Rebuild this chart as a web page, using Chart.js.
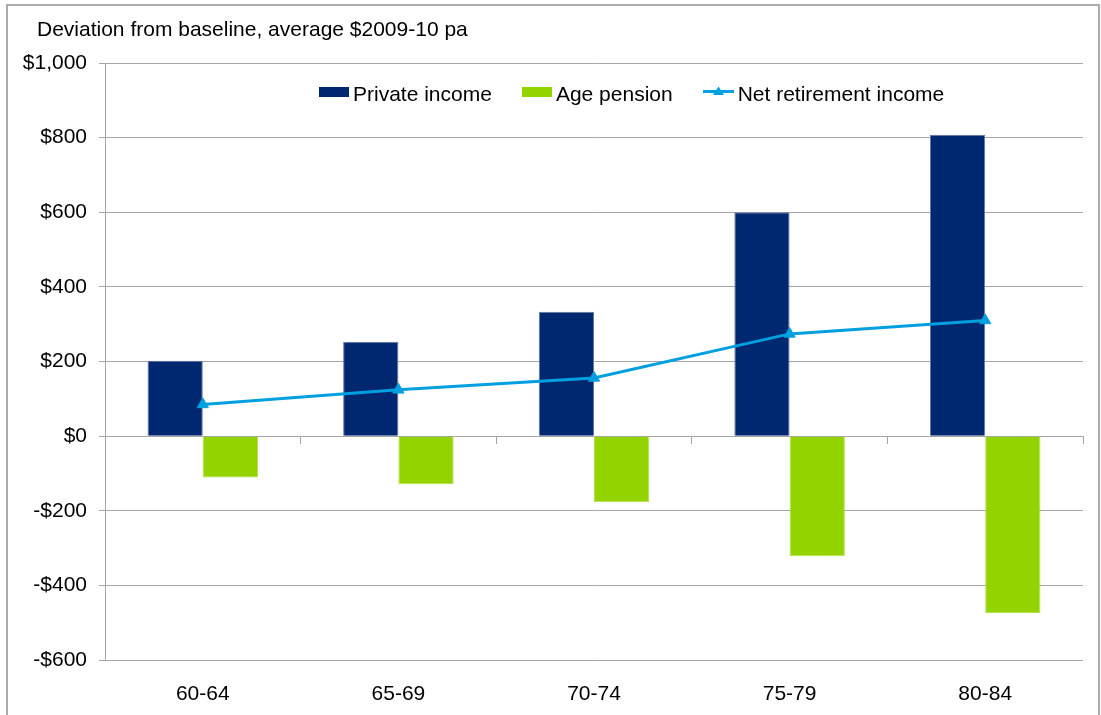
<!DOCTYPE html>
<html>
<head>
<meta charset="utf-8">
<script src="https://cdn.jsdelivr.net/npm/chart.js@4/dist/chart.umd.min.js"></script>
<style>
  html, body { margin: 0; padding: 0; background: #fff; overflow: hidden; }
  #wrap { position: relative; width: 1101px; height: 715px; }
  #frame { position: absolute; left: 6px; top: 4px; width: 1094px; height: 760px; box-sizing: border-box;
           border: 2px solid #ababab; border-bottom: none; pointer-events: none; }
  canvas { position: absolute; left: 0; top: 0; }
  #title { position: absolute; left: 37px; top: 17px; white-space: nowrap;
           font: 21px 'Liberation Sans', Arial, sans-serif; line-height: 24px; color: #000; }
  #legend { position: absolute; left: 319px; top: 82px; display: flex; white-space: nowrap;
            font: 21px 'Liberation Sans', Arial, sans-serif; line-height: 24px; color: #000; }
  .item { display: flex; align-items: flex-start; margin-right: 30px; }
  .box { width: 30px; height: 10px; margin-top: 5px; margin-right: 4px; }
  .lineicon { width: 31px; height: 14px; margin-top: 3px; margin-right: 4px; }
</style>
</head>
<body>
<div id="wrap">
  <canvas id="c" width="1101" height="715"></canvas>
  <div id="title"></div>
  <div id="legend"></div>
  <div id="frame"></div>
</div>
<script>
const categories = ['60-64', '65-69', '70-74', '75-79', '80-84'];
const privateIncome = [202, 253, 333, 600, 808];
const agePension = [-111, -129, -177, -322, -474];
const netRetirementIncome = [85, 124, 156, 274, 310];
const seriesNames = ['Private income', 'Age pension', 'Net retirement income'];
const yTickValues = [-600, -400, -200, 0, 200, 400, 600, 800, 1000];
const yTickLabels = ['-$600', '-$400', '-$200', '$0', '$200', '$400', '$600', '$800', '$1,000'];
const titleText = 'Deviation from baseline, average $2009-10 pa';

const NAVY = '#002870';
const GREEN = '#93d300';
const BLUE = '#00a0e0';
const GRID = '#a6a6a6';
const FONT = { family: "'Liberation Sans', Arial, sans-serif", size: 21 };

document.getElementById('title').textContent = titleText;

const chart = new Chart(document.getElementById('c'), {
  type: 'bar',
  data: {
    labels: categories,
    datasets: [
      { label: seriesNames[0], data: privateIncome, backgroundColor: NAVY, borderColor: '#6577a0',
        borderWidth: 1, order: 1, categoryPercentage: 0.565, barPercentage: 1 },
      { label: seriesNames[1], data: agePension, backgroundColor: GREEN, borderColor: '#b2e04a',
        borderWidth: 1, order: 1, categoryPercentage: 0.565, barPercentage: 1 },
      { type: 'line', label: seriesNames[2], data: netRetirementIncome, borderColor: BLUE,
        backgroundColor: BLUE, borderWidth: 3, pointStyle: 'triangle', pointRadius: 6.5,
        pointBorderWidth: 1, pointBackgroundColor: BLUE, pointBorderColor: BLUE,
        tension: 0, fill: false, order: 0 }
    ]
  },
  options: {
    responsive: false,
    devicePixelRatio: 1,
    animation: false,
    layout: { padding: { left: 0, right: 18, top: 63, bottom: 0 } },
    plugins: {
      legend: { display: false },
      tooltip: { enabled: false },
      title: { display: false }
    },
    scales: {
      x: {
        grid: { display: false },
        border: { display: false },
        ticks: { color: '#000', font: FONT, padding: 14, maxRotation: 0 },
        afterFit: (s) => { s.height = 55; }
      },
      x2: {
        type: 'category',
        labels: categories,
        position: { y: 0 },
        offset: true,
        grid: { offset: true, drawOnChartArea: false, drawTicks: true, tickLength: 7, color: GRID },
        border: { display: true, color: GRID },
        ticks: { display: false }
      },
      y: {
        min: -600, max: 1000,
        ticks: {
          stepSize: 200, color: '#000', font: FONT, padding: 12,
          callback: (v) => { const i = yTickValues.indexOf(v); return i >= 0 ? yTickLabels[i] : ''; }
        },
        grid: { color: GRID, lineWidth: 1, tickLength: 6, drawTicks: true },
        border: { display: true, color: GRID },
        afterFit: (s) => { s.width = 105; }
      }
    }
  }
});

// HTML legend built from the chart's datasets
const legendOrder = [0, 1, 2];
const legendEl = document.getElementById('legend');
legendOrder.forEach((idx) => {
  const ds = chart.data.datasets[idx];
  const item = document.createElement('div');
  item.className = 'item';
  if (ds.type === 'line') {
    const ns = 'http://www.w3.org/2000/svg';
    const svg = document.createElementNS(ns, 'svg');
    svg.setAttribute('class', 'lineicon');
    svg.setAttribute('width', '31'); svg.setAttribute('height', '14');
    const ln = document.createElementNS(ns, 'line');
    ln.setAttribute('x1', '0'); ln.setAttribute('x2', '31');
    ln.setAttribute('y1', '6.5'); ln.setAttribute('y2', '6.5');
    ln.setAttribute('stroke', ds.borderColor); ln.setAttribute('stroke-width', '3');
    const tri = document.createElementNS(ns, 'polygon');
    tri.setAttribute('points', '15.5,1.5 21,10 10,10');
    tri.setAttribute('fill', ds.borderColor);
    svg.appendChild(ln); svg.appendChild(tri);
    item.appendChild(svg);
  } else {
    const b = document.createElement('div');
    b.className = 'box';
    b.style.background = ds.backgroundColor;
    item.appendChild(b);
  }
  const t = document.createElement('span');
  t.textContent = ds.label;
  item.appendChild(t);
  legendEl.appendChild(item);
});
</script>
</body>
</html>
